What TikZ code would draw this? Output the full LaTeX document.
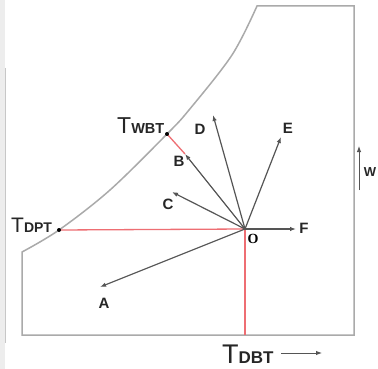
\documentclass[tikz,border=0pt]{standalone}
\usepackage{fontspec}
\setmainfont{Liberation Sans}
\newfontfamily\serifbold{Liberation Serif}
\usetikzlibrary{arrows.meta}
\definecolor{chartgrey}{RGB}{170,170,170}
\definecolor{vecgrey}{RGB}{85,85,85}
\definecolor{lightred}{RGB}{238,110,115}
\tikzset{
  outline/.style={draw=chartgrey, line width=1.5pt},
  vec/.style={-{Latex[length=6pt,width=4.5pt]}, draw=vecgrey, line width=1.2pt},
  proj/.style={draw=lightred, line width=1.3pt},
  pt/.style={circle, fill=black, inner sep=0pt, minimum size=4pt},
  lbl/.style={font=\fontsize{15}{15}\selectfont\bfseries, inner sep=0pt, text=black!85},
  temp/.style={inner sep=0pt, anchor=base west, text=black!85}
}
\begin{document}
\begin{tikzpicture}[x=1pt, y=-1pt]
\useasboundingbox (0,0) rectangle (378,369);
\fill[white] (0,0) rectangle (378,369);
% left strip of the screenshot
\fill[black!7] (0,0) rectangle (5,369);
\draw[black!22, line width=1pt] (5,68) -- (5,343);

% chart outline with saturation curve
\draw[outline] (22,335) -- plot[smooth, tension=0.55] coordinates
  {(22,252) (59,230) (110,190) (167,134) (189,110) (232,55) (257,6)}
  -- (354,6) -- (354,335) -- cycle;

\coordinate (O) at (245,229);
\coordinate (dpt) at (59,230);
\coordinate (wbt) at (167,134);
\coordinate (dbt) at (245,335);
\coordinate (tA) at (100,287);
\coordinate (tB) at (185,154);
\coordinate (tC) at (172,192);
\coordinate (tD) at (213,115);
\coordinate (tE) at (281,137);
\coordinate (tF) at (296,229);

% projections
\draw[proj] (dpt) -- (O);
\draw[proj] (O) -- (dbt);
\draw[proj] (wbt) -- (tB);

% process vectors
\foreach \t in {tA,tB,tC,tD,tE,tF}
  \draw[vec] (O) -- (\t);

\node[pt] (pdpt) at (dpt) {};
\node[pt] (pwbt) at (wbt) {};

\node[lbl] (lA) at (104,303) {A};
\node[lbl] (lB) at (179,161) {B};
\node[lbl] (lC) at (168,204) {C};
\node[lbl] (lD) at (200,129) {D};
\node[lbl] (lE) at (288,128) {E};
\node[lbl] (lF) at (304,228) {F};
\node[inner sep=0pt, font=\fontsize{14}{14}\serifbold\bfseries] (lO) at (253,239) {O};

% temperature labels
\node[temp] (Tdpt) at (11,232)
  {\fontsize{21}{21}\selectfont T\fontsize{14}{14}\selectfont\bfseries DPT};
\node[temp] (Twbt) at (117,134)
  {\fontsize{23}{23}\selectfont T\fontsize{14.5}{14.5}\selectfont\bfseries WBT};
\node[temp] (Tdbt) at (222,363)
  {\fontsize{27}{27}\selectfont T\fontsize{17}{17}\selectfont\bfseries DBT};

% axis hints
\coordinate (x0) at (281,353);
\coordinate (x1) at (322,353);
\draw[vec, line width=1pt] (x0) -- (x1);
\coordinate (w0) at (359,190);
\coordinate (w1) at (359,146);
\draw[vec, line width=1pt] (w0) -- (w1);
\node[lbl, font=\fontsize{13}{13}\selectfont\bfseries] (lW) at (370,172) {W};
\end{tikzpicture}
\end{document}
